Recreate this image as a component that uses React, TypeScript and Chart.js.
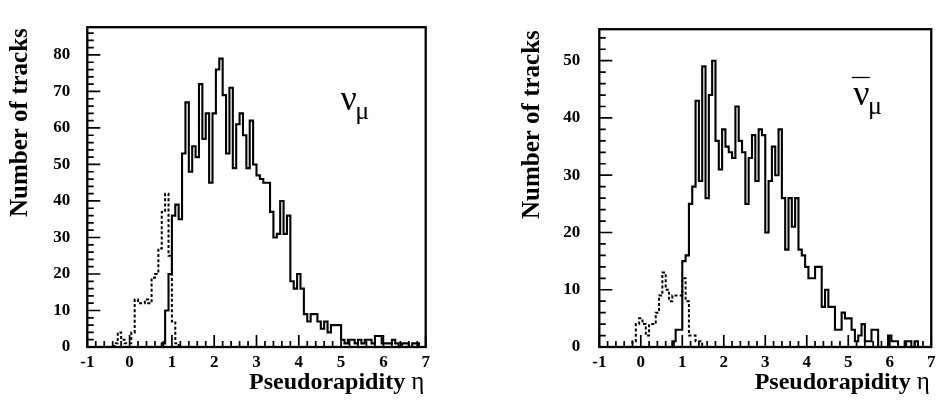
import React, { useEffect, useRef } from 'react';
import { Chart, registerables } from 'chart.js';

Chart.register(...registerables);

// ---------- data ----------
const ETA_MIN = -1;
const ETA_MAX = 7;
const BIN_WIDTH = 0.08;
const xMajorTicks = [-1, 0, 1, 2, 3, 4, 5, 6, 7];

// nu_mu : measured tracks (solid), 100 bins of 0.08 in eta from -1 to 7
const nuMuSolid = [
  0, 0, 0, 0, 0, 0, 0, 0, 0, 0,
  0, 0, 0, 0, 0, 0, 0, 0, 0, 0,
  0, 0, 1, 10, 20, 36, 39, 35, 53, 67,
  48, 55, 52, 72, 57, 64, 45, 64, 76, 79,
  69, 53, 71, 49, 61, 64, 58, 49, 62, 50,
  47, 46, 45, 45, 37, 30, 31, 40, 31, 36,
  18, 16, 20, 16, 9, 7, 9, 9, 7, 5,
  7, 4, 6, 6, 6, 2, 1, 2, 2, 1,
  2, 1, 2, 2, 1, 3, 3, 1, 1, 1,
  2, 1, 0, 1, 1, 0, 1, 1, 0, 0,
];
// nu_mu : dashed histogram
const nuMuDashed = [
  0, 0, 0, 0, 0, 0, 0, 0, 1, 4,
  2, 1, 1, 4, 13, 12, 12, 13, 12, 19,
  20, 27, 37, 42, 25, 7, 1, 0, 0, 0,
  0, 0, 0, 0, 0, 0, 0, 0, 0, 0,
  0, 0, 0, 0, 0, 0, 0, 0, 0, 0,
  0, 0, 0, 0, 0, 0, 0, 0, 0, 0,
  0, 0, 0, 0, 0, 0, 0, 0, 0, 0,
  0, 0, 0, 0, 0, 0, 0, 0, 0, 0,
  0, 0, 0, 0, 0, 0, 0, 0, 0, 0,
  0, 0, 0, 0, 0, 0, 0, 0, 0, 0,
];
// anti nu_mu : measured tracks (solid)
const antiNuMuSolid = [
  0, 0, 0, 0, 0, 0, 0, 0, 0, 0,
  0, 0, 0, 0, 0, 0, 0, 0, 0, 0,
  0, 0, 1, 3, 3, 15, 16, 25, 28, 43,
  29, 49, 26, 44, 50, 36, 31, 38, 35, 34,
  33, 42, 36, 34, 25, 33, 37, 29, 38, 37,
  20, 29, 35, 30, 38, 26, 17, 26, 21, 26,
  17, 16, 14, 12, 12, 14, 14, 7, 10, 7,
  7, 3, 3, 6, 5, 5, 3, 1, 2, 4,
  1, 1, 3, 3, 0, 0, 0, 2, 1, 1,
  0, 0, 1, 1, 0, 1, 0, 0, 0, 0,
];
// anti nu_mu : dashed histogram
const antiNuMuDashed = [
  0, 0, 0, 0, 0, 0, 0, 0, 0, 0,
  1, 4, 5, 4, 2, 4, 4, 6, 9, 13,
  10, 8, 9, 9, 9, 12, 8, 2, 2, 1,
  1, 0, 0, 0, 0, 0, 0, 0, 0, 0,
  0, 0, 0, 0, 0, 0, 0, 0, 0, 0,
  0, 0, 0, 0, 0, 0, 0, 0, 0, 0,
  0, 0, 0, 0, 0, 0, 0, 0, 0, 0,
  0, 0, 0, 0, 0, 0, 0, 0, 0, 0,
  0, 0, 0, 0, 0, 0, 0, 0, 0, 0,
  0, 0, 0, 0, 0, 0, 0, 0, 0, 0,
];
const nuMuYMax = 87.6;
const antiNuMuYMax = 55.5;

const X_TITLE = 'Pseudorapidity ';
const X_TITLE_SYMBOL = 'η';
const Y_TITLE = 'Number of tracks';

// ---------- helpers ----------
const SERIF = '"Liberation Serif", "Times New Roman", serif';

function histPoints(values: number[]) {
  const pts: { x: number; y: number }[] = [{ x: ETA_MIN, y: 0 }];
  values.forEach((v, i) => pts.push({ x: ETA_MIN + (i + 1) * BIN_WIDTH, y: v }));
  return pts;
}

interface PanelCfg {
  width: number;
  areaLeft: number;
  areaRight: number;
  yPad: number;
  nuLeft: number;
  nuBase: number;
  muLeft: number;
  muBase: number;
  bar: boolean;
}

function makeDecor(cfg: PanelCfg) {
  return {
    id: 'decor',
    afterDatasetsDraw(chart: any) {
      const { ctx, chartArea: a, scales } = chart;
      const xs = scales.x;
      const ys = scales.y;
      ctx.save();
      ctx.strokeStyle = '#000';
      ctx.lineWidth = 1.7;
      ctx.beginPath();
      for (let i = 0; i <= 40; i++) {
        const v = ETA_MIN + i * 0.2;
        const px = xs.getPixelForValue(v);
        const len = i % 5 === 0 ? 12 : 6;
        ctx.moveTo(px, a.bottom);
        ctx.lineTo(px, a.bottom - len);
      }
      for (let v = 0; v <= ys.max; v += 2) {
        const py = ys.getPixelForValue(v);
        const len = v % 10 === 0 ? 13 : 6.5;
        ctx.moveTo(a.left, py);
        ctx.lineTo(a.left + len, py);
      }
      ctx.stroke();
      ctx.lineWidth = 2.3;
      ctx.strokeRect(a.left, a.top, a.right - a.left, a.bottom - a.top);
      ctx.restore();
    },
    afterDraw(chart: any) {
      const { ctx, chartArea: a } = chart;
      ctx.save();
      ctx.fillStyle = '#000';
      ctx.strokeStyle = '#000';
      ctx.textBaseline = 'alphabetic';
      // x title, right aligned to the frame
      const base = a.bottom + 42;
      const xEnd = a.right - 1.5;
      ctx.textAlign = 'right';
      ctx.font = `normal 25px ${SERIF}`;
      const etaW = ctx.measureText(X_TITLE_SYMBOL).width;
      ctx.fillText(X_TITLE_SYMBOL, xEnd, base);
      ctx.font = `bold 24px ${SERIF}`;
      ctx.fillText(X_TITLE, xEnd - etaW, base);
      // y title, rotated, ending at the top of the frame
      ctx.save();
      ctx.translate(a.left - 60.6, a.top + 1);
      ctx.rotate(-Math.PI / 2);
      ctx.textAlign = 'right';
      ctx.font = `bold 25px ${SERIF}`;
      ctx.fillText(Y_TITLE, 0, 0);
      ctx.restore();
      // nu label
      ctx.textAlign = 'left';
      ctx.font = `normal 36px ${SERIF}`;
      const m = ctx.measureText('ν');
      ctx.fillText('ν', cfg.nuLeft + m.actualBoundingBoxLeft, cfg.nuBase);
      const inkW = m.actualBoundingBoxLeft + m.actualBoundingBoxRight;
      ctx.font = `normal 26px ${SERIF}`;
      const mu = ctx.measureText('μ');
      ctx.fillText('μ', cfg.muLeft + mu.actualBoundingBoxLeft, cfg.muBase);
      if (cfg.bar) {
        ctx.lineWidth = 1.3;
        ctx.beginPath();
        ctx.moveTo(cfg.nuLeft - 1.5, cfg.nuBase - 27);
        ctx.lineTo(cfg.nuLeft + inkW + 0.5, cfg.nuBase - 27);
        ctx.stroke();
      }
      ctx.restore();
    },
  };
}

function buildChart(canvas: HTMLCanvasElement, solid: number[], dashed: number[], yMax: number, cfg: PanelCfg) {
  const tickFont = { family: SERIF, size: 17, weight: 'bold' as const };
  return new Chart(canvas, {
    type: 'line',
    data: {
      datasets: [
        {
          data: histPoints(dashed),
          borderColor: '#000',
          borderWidth: 2,
          borderDash: [3, 2.2],
          stepped: 'after',
          pointRadius: 0,
          fill: false,
          borderJoinStyle: 'miter',
        },
        {
          data: histPoints(solid),
          borderColor: '#000',
          borderWidth: 2.1,
          stepped: 'after',
          pointRadius: 0,
          fill: false,
          borderJoinStyle: 'miter',
        },
      ],
    },
    options: {
      animation: false,
      responsive: false,
      events: [],
      layout: { padding: { left: 0, right: cfg.width - cfg.areaRight, top: 9, bottom: 0 } },
      plugins: { legend: { display: false }, tooltip: { enabled: false } },
      scales: {
        x: {
          type: 'linear',
          min: ETA_MIN,
          max: ETA_MAX,
          grid: { display: false, drawTicks: false },
          border: { display: false },
          afterBuildTicks: (s: any) => {
            s.ticks = xMajorTicks.map((v) => ({ value: v }));
          },
          ticks: { padding: 5.5, font: tickFont, color: '#000', maxRotation: 0, autoSkip: false },
          afterFit: (s: any) => {
            s.height = 53;
          },
        },
        y: {
          type: 'linear',
          min: 0,
          max: yMax,
          grid: { display: false, drawTicks: false },
          border: { display: false },
          ticks: { stepSize: 10, includeBounds: false, padding: cfg.yPad, font: tickFont, color: '#000' },
          afterFit: (s: any) => {
            s.width = cfg.areaLeft;
          },
        },
      },
    } as any,
    plugins: [makeDecor(cfg)],
  });
}

const leftCfg: PanelCfg = {
  width: 470, areaLeft: 87.3, areaRight: 425.7, yPad: 17,
  nuLeft: 340.5, nuBase: 110, muLeft: 357.3, muBase: 119.3, bar: false,
};
const rightCfg: PanelCfg = {
  width: 471, areaLeft: 129.3, areaRight: 467.3, yPad: 19,
  nuLeft: 383.3, nuBase: 104.5, muLeft: 400, muBase: 113.6, bar: true,
};

export default function App() {
  const leftRef = useRef<HTMLCanvasElement>(null);
  const rightRef = useRef<HTMLCanvasElement>(null);
  useEffect(() => {
    const c1 = buildChart(leftRef.current!, nuMuSolid, nuMuDashed, nuMuYMax, leftCfg);
    const c2 = buildChart(rightRef.current!, antiNuMuSolid, antiNuMuDashed, antiNuMuYMax, rightCfg);
    return () => {
      c1.destroy();
      c2.destroy();
    };
  }, []);
  return (
    <div style={{ position: 'fixed', left: 0, top: 0, width: 941, height: 400, background: '#fff', overflow: 'hidden' }}>
      <canvas ref={leftRef} width={470} height={400} style={{ position: 'absolute', left: 0, top: 0 }} />
      <canvas ref={rightRef} width={471} height={400} style={{ position: 'absolute', left: 470, top: 0 }} />
    </div>
  );
}
